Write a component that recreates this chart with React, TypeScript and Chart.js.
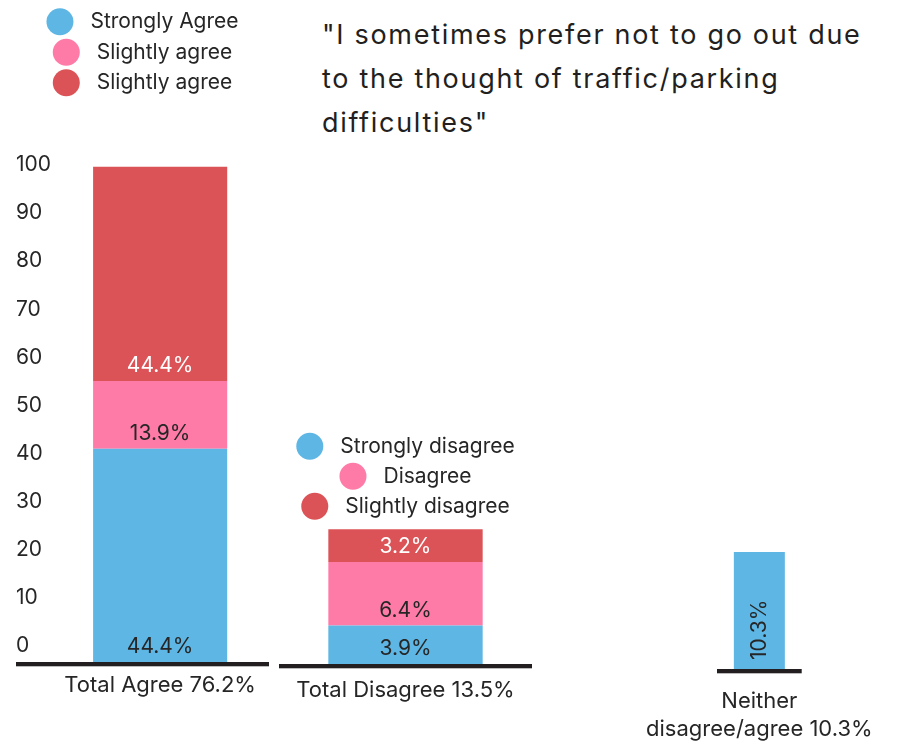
import React, { useEffect, useRef } from "react";
import { Chart, registerables } from "chart.js";

Chart.register(...registerables);

// ---------------- data ----------------
const titleLines = [
  '"I sometimes prefer not to go out due',
  "to the thought of traffic/parking",
  'difficulties"',
];

const yTickValues = [0, 10, 20, 30, 40, 50, 60, 70, 80, 90, 100];

const agreeCategory = ["Total Agree 76.2%"];
const agreeSeries = ["Strongly Agree", "Slightly agree", "Slightly agree"];
const agreeBounds = [-3.3, 41.0, 55.1, 99.6];
const agreeLabels = ["44.4%", "13.9%", "44.4%"];

const disagreeCategory = ["Total Disagree 13.5%"];
const disagreeSeries = ["Strongly disagree", "Disagree", "Slightly disagree"];
const disagreeBounds = [0, 8.0, 21.2, 28.0];
const disagreeLabels = ["3.9%", "6.4%", "3.2%"];

const neitherCategory = ["Neither", "disagree/agree 10.3%"];
const neitherSeries = ["Neither disagree/agree"];
const neitherBounds = [0, 24.3];
const neitherLabels = ["10.3%"];

// ---------------- styles ----------------
const FONT = "Inter";
const INK = "#231f20";
const TEXT = "#262626";
const BLUE = "#5eb6e4";
const PINK = "#ff7ba7";
const RED = "#db5356";
const SEG_COLORS = [BLUE, PINK, RED];
const LABEL_COLORS = [TEXT, TEXT, "#ffffff"];

const buildDatasets = (
  names: string[],
  bounds: number[],
  labels: string[],
  rotate = false
) =>
  names.map((name, i) => ({
    label: name,
    data: [[bounds[i], bounds[i + 1]]],
    backgroundColor: SEG_COLORS[i],
    borderWidth: 0,
    valueLabel: labels[i],
    valueLabelColor: LABEL_COLORS[i],
    valueLabelRotate: rotate,
  }));

const valueLabelPlugin = {
  id: "valueLabels",
  afterDatasetsDraw(chart: any) {
    const { ctx } = chart;
    chart.data.datasets.forEach((ds: any, di: number) => {
      const meta = chart.getDatasetMeta(di);
      meta.data.forEach((el: any) => {
        const { x, base } = el.getProps(["x", "base"], true);
        ctx.save();
        ctx.fillStyle = ds.valueLabelColor;
        ctx.font = `21px ${FONT}`;
        ctx.textBaseline = "middle";
        if (ds.valueLabelRotate) {
          ctx.translate(x, base - 9);
          ctx.rotate(-Math.PI / 2);
          ctx.textAlign = "left";
          ctx.fillText(ds.valueLabel, 0, 0);
        } else {
          ctx.textAlign = "center";
          ctx.fillText(ds.valueLabel, x, base - 15);
        }
        ctx.restore();
      });
    });
  },
};

const makeDecorPlugin = (
  legendNames: string[],
  rowStep: number,
  legendTop: number
) => ({
  id: "decor",
  afterDraw(chart: any) {
    const { ctx, chartArea } = chart;
    const yScale = chart.scales.y;
    const left = yScale.options.display ? yScale.left : chartArea.left;
    const right = chartArea.right;
    ctx.save();
    ctx.fillStyle = INK;
    ctx.fillRect(left, chartArea.bottom, right - left, 4.3);
    const cx = (left + right) / 2;
    const R = 13.5;
    const GAP = 30.5;
    ctx.font = `21px ${FONT}`;
    ctx.textBaseline = "middle";
    ctx.textAlign = "left";
    legendNames.forEach((name, i) => {
      const cy = legendTop + i * rowStep;
      const tw = ctx.measureText(name).width;
      const rowW = R + GAP + tw;
      const cc = cx - rowW / 2 + R;
      ctx.fillStyle = SEG_COLORS[i];
      ctx.beginPath();
      ctx.arc(cc, cy, R, 0, Math.PI * 2);
      ctx.fill();
      ctx.fillStyle = TEXT;
      ctx.fillText(name, cc + GAP, cy);
    });
    ctx.restore();
  },
});

type PanelCfg = {
  labels: any[];
  datasets: any[];
  padding: { left: number; right: number; top: number; bottom: number };
  yMin: number;
  yMax: number;
  showY: boolean;
  yWidth?: number;
  xHeight: number;
  xPadding: number;
  xLineHeight: number;
  barPct: number;
  legendNames: string[];
  legendStep: number;
  legendTop: number;
};

const makeConfig = (c: PanelCfg): any => ({
  type: "bar",
  data: { labels: c.labels, datasets: c.datasets },
  options: {
    responsive: false,
    animation: false,
    layout: { padding: c.padding },
    datasets: {
      bar: { barPercentage: c.barPct, categoryPercentage: 1, grouped: false },
    },
    plugins: {
      legend: { display: false },
      tooltip: { enabled: false },
      title: { display: false },
    },
    scales: {
      x: {
        stacked: true,
        grid: { display: false, drawTicks: false },
        border: { display: false },
        ticks: {
          color: TEXT,
          font: { family: FONT, size: 22, lineHeight: c.xLineHeight },
          padding: c.xPadding,
          maxRotation: 0,
          minRotation: 0,
          autoSkip: false,
        },
        afterFit: (s: any) => {
          s.height = c.xHeight;
          s.paddingLeft = 0;
          s.paddingRight = 0;
        },
      },
      y: {
        display: c.showY,
        min: c.yMin,
        max: c.yMax,
        grid: { display: false, drawTicks: false },
        border: { display: false },
        ticks: {
          color: TEXT,
          font: { family: FONT, size: 21 },
          padding: 3,
          crossAlign: "far",
          stepSize: 10,
          includeBounds: false,
        },
        afterBuildTicks: (s: any) => {
          s.ticks = yTickValues.map((v) => ({ value: v }));
        },
        afterFit: (s: any) => {
          if (c.yWidth !== undefined) s.width = c.yWidth;
        },
      },
    },
  },
  plugins: [valueLabelPlugin, makeDecorPlugin(c.legendNames, c.legendStep, c.legendTop)],
});

function Panel({
  cfg,
  left,
  top,
  width,
  height,
}: {
  cfg: PanelCfg;
  left: number;
  top: number;
  width: number;
  height: number;
}) {
  const ref = useRef<HTMLCanvasElement>(null);
  useEffect(() => {
    const chart = new Chart(ref.current as HTMLCanvasElement, makeConfig(cfg));
    return () => chart.destroy();
  }, []);
  return (
    <canvas
      ref={ref}
      width={width}
      height={height}
      style={{ position: "absolute", left, top, width, height, display: "block" }}
    />
  );
}

const agreeCfg: PanelCfg = {
  labels: agreeCategory,
  datasets: buildDatasets(agreeSeries, agreeBounds, agreeLabels),
  padding: { left: 16, right: 0, top: 160, bottom: 0 },
  yMin: -3.3,
  yMax: 101,
  showY: true,
  yWidth: 35.3,
  xHeight: 50,
  xPadding: 10.5,
  xLineHeight: 1.2,
  barPct: 0.616,
  legendNames: agreeSeries,
  legendStep: 30.5,
  legendTop: 21.7,
};

const disagreeCfg: PanelCfg = {
  labels: disagreeCategory,
  datasets: buildDatasets(disagreeSeries, disagreeBounds, disagreeLabels),
  padding: { left: 0, right: 0, top: 94.6, bottom: 0 },
  yMin: 0,
  yMax: 30,
  showY: false,
  xHeight: 50,
  xPadding: 12.8,
  xLineHeight: 1.2,
  barPct: 0.61,
  legendNames: disagreeSeries,
  legendStep: 30,
  legendTop: 21.3,
};

const neitherCfg: PanelCfg = {
  labels: [neitherCategory],
  datasets: buildDatasets(neitherSeries, neitherBounds, neitherLabels, true),
  padding: { left: 97, right: 106.3, top: 13.9, bottom: 0 },
  yMin: 0,
  yMax: 26,
  showY: false,
  xHeight: 75,
  xPadding: 18.1,
  xLineHeight: 1.29,
  barPct: 0.602,
  legendNames: [],
  legendStep: 30,
  legendTop: 0,
};

export default function App() {
  return (
    <div
      style={{
        position: "absolute",
        left: 0,
        top: 0,
        width: 908,
        height: 752,
        background: "#ffffff",
        overflow: "hidden",
      }}
    >
      <div
        style={{
          position: "absolute",
          left: 322,
          top: 13.1,
          fontFamily: FONT,
          fontSize: 27,
          letterSpacing: "1.7px",
          lineHeight: "43.7px",
          color: INK,
          whiteSpace: "nowrap",
        }}
      >
        {titleLines.map((t, i) => (
          <div key={i}>{t}</div>
        ))}
      </div>
      <Panel cfg={agreeCfg} left={0} top={0} width={269} height={712} />
      <Panel cfg={disagreeCfg} left={279} top={425} width={253} height={289} />
      <Panel cfg={neitherCfg} left={620} top={530} width={288} height={214} />
    </div>
  );
}
